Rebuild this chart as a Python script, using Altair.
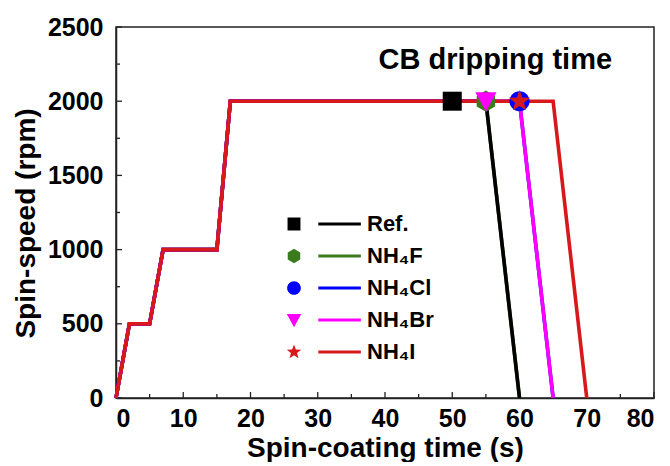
import math
import altair as alt
import pandas as pd

# ---------------- data ----------------
series = ["Ref.", "NH₄F", "NH₄Cl", "NH₄Br", "NH₄I"]
colors = ["#000000", "#3c7a1e", "#0000ff", "#ff00ff", "#d7191c"]

ramp_t = [0, 2, 5, 7, 15, 17]
ramp_rpm = [0, 500, 500, 1000, 1000, 2000]
drop_start_t = [55, 55, 60, 60, 65]
drop_end_t = [60, 60, 65, 65, 70]
plateau_rpm = [2000, 2000, 2000, 2000, 2000]
final_rpm = [0, 0, 0, 0, 0]

drip_t = [50, 55, 60, 55, 60]
drip_rpm = [2000, 2000, 2000, 2000, 2000]

line_draw_order = ["NH₄F", "NH₄Cl", "Ref.", "NH₄Br", "NH₄I"]

x_major = [0, 10, 20, 30, 40, 50, 60, 70, 80]
x_minor = [5, 15, 25, 35, 45, 55, 65, 75]
y_major = [0, 500, 1000, 1500, 2000, 2500]
y_minor = [250, 750, 1250, 1750, 2250]

annot_text = ["CB dripping time"]
annot_t = [56.4]
annot_rpm = [2215]

# ---------------- tables ----------------
rows = []
for i, s in enumerate(series):
    ts = ramp_t + [drop_start_t[i], drop_end_t[i]]
    rs = ramp_rpm + [plateau_rpm[i], final_rpm[i]]
    for k, (t, r) in enumerate(zip(ts, rs)):
        rows.append({"series": s, "t": t, "rpm": r, "k": k})
lines_df = pd.DataFrame(rows)
pts_df = pd.DataFrame({"series": series, "t": drip_t, "rpm": drip_rpm})
annot_df = pd.DataFrame({"label": annot_text, "t": annot_t, "rpm": annot_rpm})
xmaj_df = pd.DataFrame({"t": x_major})
xmin_df = pd.DataFrame({"t": x_minor})
ymaj_df = pd.DataFrame({"rpm": y_major})
ymin_df = pd.DataFrame({"rpm": y_minor})

# ---------------- marker shapes ----------------
def star_path(R=1.0, r=0.42):
    pts = []
    for k in range(10):
        a = math.radians(-90 + 36 * k)
        rad = R if k % 2 == 0 else r
        pts.append(f"{rad*math.cos(a):.3f},{rad*math.sin(a):.3f}")
    return "M" + "L".join(pts) + "Z"

def hex_path(R=0.95):
    pts = []
    for k in range(6):
        a = math.radians(-90 + 60 * k)
        pts.append(f"{R*math.cos(a):.3f},{R*math.sin(a):.3f}")
    return "M" + "L".join(pts) + "Z"

shapes = [
    "M-0.85,-0.85H0.85V0.85H-0.85Z",
    hex_path(0.95),
    "M-0.9,0A0.9,0.9 0 1,0 0.9,0A0.9,0.9 0 1,0 -0.9,0Z",
    "M-0.95,-0.8H0.95L0,0.95Z",
    star_path(1.0, 0.42),
]
legend_line = " M3.2,-0.19H8.8V0.19H3.2Z"
legend_shapes = [s + legend_line for s in shapes]

W, H = 538, 371
FONT = "Liberation Sans"

x_enc = alt.X(
    "t:Q",
    scale=alt.Scale(domain=[0, 80], nice=False, zero=False),
    axis=alt.Axis(
        values=x_major, title="Spin-coating time (s)", labelPadding=8,
        titleBaseline="alphabetic", titleY=58, titleX=W / 2,
    ),
)
y_enc = alt.Y(
    "rpm:Q",
    scale=alt.Scale(domain=[0, 2500], nice=False),
    axis=alt.Axis(
        values=y_major, format="d", title="Spin-speed (rpm)", labelPadding=13,
        titleBaseline="alphabetic", titleX=-82, titleY=196, titleAngle=-90,
    ),
)
color_scale = alt.Scale(domain=series, range=colors)

line_layers = []
for s in line_draw_order:
    i = series.index(s)
    line_layers.append(
        alt.Chart(lines_df)
        .transform_filter(alt.datum.series == s)
        .mark_line(strokeWidth=3.6, strokeJoin="miter", color=colors[i])
        .encode(x=x_enc, y=y_enc, order="k:Q")
    )

marker_layers = []
for i, s in enumerate(series):
    marker_layers.append(
        alt.Chart(pts_df)
        .transform_filter(alt.datum.series == s)
        .mark_point(filled=True, size=500, opacity=1, strokeWidth=0,
                    shape=shapes[i], color=colors[i])
        .encode(x=x_enc, y=y_enc)
    )

leg_kw = dict(
    orient="none", legendX=167, legendY=186, title=None,
    labelFont=FONT, labelFontSize=22, labelFontWeight="bold",
    labelColor="black", labelOffset=62, symbolSize=231,
    symbolStrokeWidth=0, rowPadding=10, padding=0, symbolOpacity=1,
)
legend_layer = (
    alt.Chart(pts_df)
    .transform_filter("false")
    .mark_point(filled=True, opacity=1, size=231, strokeWidth=0)
    .encode(
        color=alt.Color("series:N", scale=color_scale, sort=series, legend=alt.Legend(**leg_kw)),
        shape=alt.Shape("series:N", scale=alt.Scale(domain=series, range=legend_shapes),
                        sort=series, legend=alt.Legend(**leg_kw)),
    )
)

tick_x_major = alt.Chart(xmaj_df).mark_rule(color="#222", strokeWidth=1.3).encode(
    x=x_enc, y=alt.value(H), y2=alt.value(H - 6))
tick_x_minor = alt.Chart(xmin_df).mark_rule(color="#222", strokeWidth=1.3).encode(
    x=x_enc, y=alt.value(H), y2=alt.value(H - 4))
tick_y_major = alt.Chart(ymaj_df).mark_rule(color="#222", strokeWidth=1.3).encode(
    y=y_enc, x=alt.value(0), x2=alt.value(6))
tick_y_minor = alt.Chart(ymin_df).mark_rule(color="#222", strokeWidth=1.3).encode(
    y=y_enc, x=alt.value(0), x2=alt.value(4))

annot = alt.Chart(annot_df).mark_text(
    font=FONT, fontSize=29, fontWeight="bold", color="black",
    align="center", baseline="alphabetic",
).encode(x=x_enc, y=y_enc, text="label:N")

chart = (
    alt.layer(legend_layer, tick_x_major, tick_x_minor, tick_y_major, tick_y_minor,
              *line_layers, *marker_layers, annot)
    .properties(
        width=W, height=H,
        autosize=alt.AutoSizeParams(type="none"),
        padding={"left": 108, "top": 19, "right": 8, "bottom": 64},
        background="white",
    )
    .configure_view(stroke="#222", strokeWidth=1.5)
    .configure_axis(
        labelFont=FONT, labelFontSize=25, labelFontWeight="bold", labelColor="black",
        titleFont=FONT, titleFontSize=28, titleFontWeight="bold", titleColor="black",
        grid=False, ticks=False, domainColor="#222", domainWidth=1.5,
    )
)

chart.save("out.html", embed_options={"renderer": "svg", "actions": False})
